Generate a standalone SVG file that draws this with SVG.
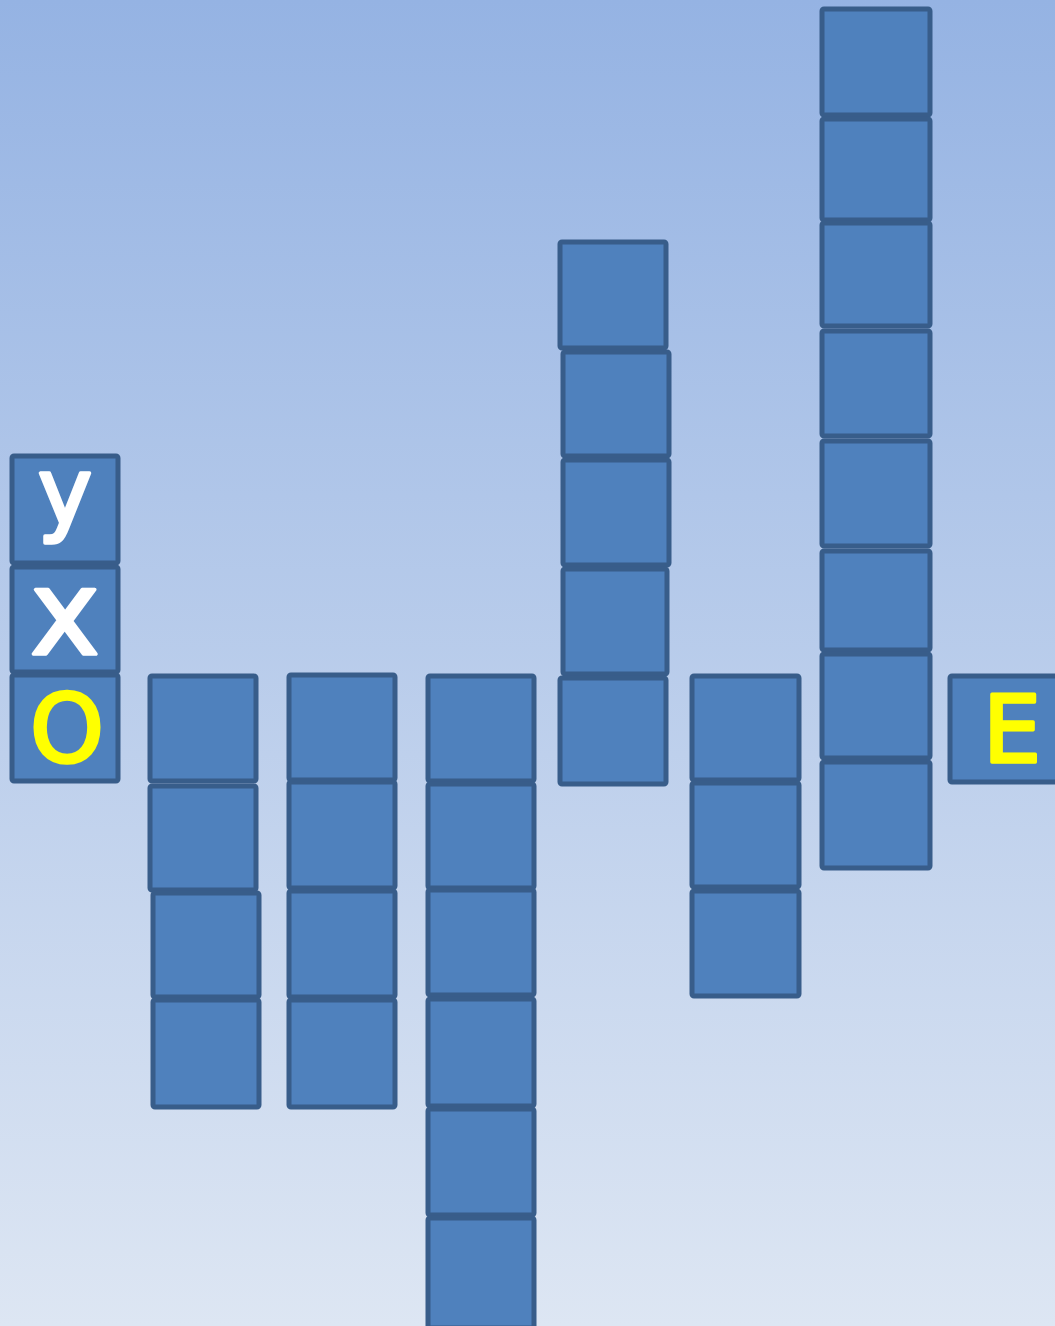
<svg xmlns="http://www.w3.org/2000/svg" width="1055" height="1326" viewBox="0 0 1055 1326">
<defs>
<linearGradient id="bg" x1="0" y1="0" x2="0" y2="1">
<stop offset="0" stop-color="#95b3e3"/>
<stop offset="1" stop-color="#dde6f3"/>
</linearGradient>
<style>
.b{fill:#4f81bd;stroke:#385d8a;stroke-width:5;}
.t{font-family:"DejaVu Sans",sans-serif;text-anchor:middle;stroke-width:3.5;stroke-linejoin:round;}
.w{fill:#ffffff;stroke:#ffffff;}
.yl{fill:#ffff00;stroke:#ffff00;}
</style>
</defs>
<rect x="0" y="0" width="1055" height="1326" fill="url(#bg)"/>
<g id="col0">
<g id="n-y"><rect class="b" x="12" y="456" width="106" height="107" rx="2"/><text class="t w" x="65" y="524" font-size="92">y</text></g>
<g id="n-x"><rect class="b" x="12" y="567" width="106" height="105" rx="2"/><text class="t w" x="65" y="654" font-size="118">x</text></g>
<g id="n-O"><rect class="b" x="12" y="675" width="106" height="106" rx="2"/><text class="t yl" x="67" y="762" font-size="94">O</text></g>
</g>
<g id="col1">
<rect id="c1b1" class="b" x="150" y="676" width="106" height="105" rx="2"/>
<rect id="c1b2" class="b" x="150" y="786" width="106" height="104" rx="2"/>
<rect id="c1b3" class="b" x="153" y="893" width="106" height="104" rx="2"/>
<rect id="c1b4" class="b" x="153" y="1000" width="106" height="107" rx="2"/>
</g>
<g id="col2">
<rect id="c2b1" class="b" x="289" y="675" width="106" height="105" rx="2"/>
<rect id="c2b2" class="b" x="289" y="782" width="106" height="106" rx="2"/>
<rect id="c2b3" class="b" x="289" y="891" width="106" height="106" rx="2"/>
<rect id="c2b4" class="b" x="289" y="1000" width="106" height="107" rx="2"/>
</g>
<g id="col3">
<rect id="c3b1" class="b" x="428" y="676" width="106" height="105" rx="2"/>
<rect id="c3b2" class="b" x="428" y="784" width="106" height="104" rx="2"/>
<rect id="c3b3" class="b" x="428" y="890" width="106" height="105" rx="2"/>
<rect id="c3b4" class="b" x="428" y="999" width="106" height="107" rx="2"/>
<rect id="c3b5" class="b" x="428" y="1109" width="106" height="106" rx="2"/>
<rect id="c3b6" class="b" x="428" y="1218" width="106" height="110" rx="2"/>
</g>
<g id="col4">
<rect id="c4b1" class="b" x="560" y="242" width="106" height="106" rx="2"/>
<rect id="c4b2" class="b" x="563" y="352" width="106" height="104" rx="2"/>
<rect id="c4b3" class="b" x="563" y="460" width="106" height="105" rx="2"/>
<rect id="c4b4" class="b" x="563" y="569" width="104" height="105" rx="2"/>
<rect id="c4b5" class="b" x="560" y="678" width="106" height="106" rx="2"/>
</g>
<g id="col5">
<rect id="c5b1" class="b" x="692" y="676" width="107" height="104" rx="2"/>
<rect id="c5b2" class="b" x="692" y="783" width="107" height="104" rx="2"/>
<rect id="c5b3" class="b" x="692" y="891" width="107" height="105" rx="2"/>
</g>
<g id="col6">
<rect id="c6b1" class="b" x="822" y="9" width="108" height="106" rx="2"/>
<rect id="c6b2" class="b" x="822" y="119" width="108" height="101" rx="2"/>
<rect id="c6b3" class="b" x="822" y="223" width="108" height="103" rx="2"/>
<rect id="c6b4" class="b" x="822" y="331" width="108" height="105" rx="2"/>
<rect id="c6b5" class="b" x="822" y="441" width="108" height="105" rx="2"/>
<rect id="c6b6" class="b" x="822" y="551" width="108" height="99" rx="2"/>
<rect id="c6b7" class="b" x="822" y="654" width="108" height="104" rx="2"/>
<rect id="c6b8" class="b" x="822" y="762" width="108" height="106" rx="2"/>
</g>
<g id="n-E"><rect class="b" x="950" y="676" width="110" height="106" rx="2"/><text class="t yl" x="1012" y="762" font-size="92">E</text></g>
<g id="connectors"></g>
</svg>
